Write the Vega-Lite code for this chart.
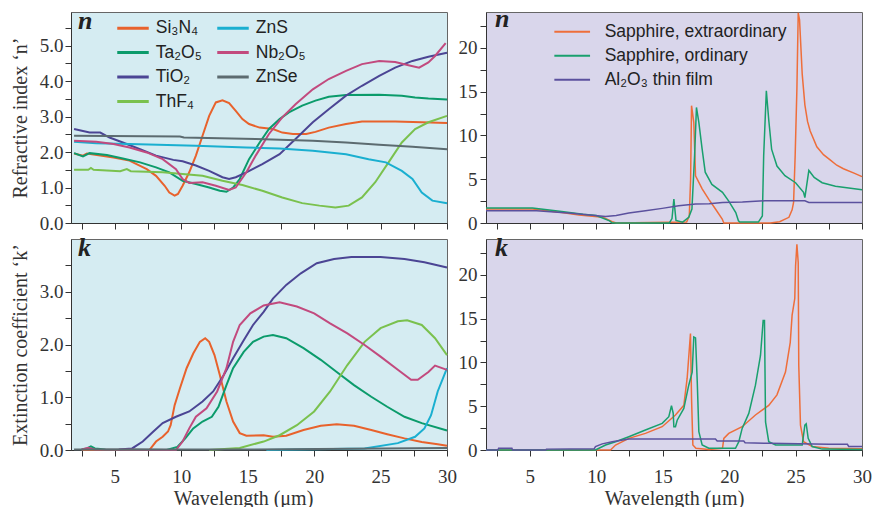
{
  "$schema": "https://vega.github.io/schema/vega-lite/v6.json",
  "padding": {"left": 9, "top": 5, "right": 5, "bottom": 0},
  "background": "#ffffff",
  "columns": 2,
  "spacing": {"row": 16, "column": 39},
  "bounds": "flush",
  "resolve": {"scale": {"color": "independent"}, "legend": {"color": "independent"}},
  "config": {
    "font": "Liberation Serif",
    "view": {"stroke": "#666666", "strokeWidth": 1},
    "axis": {"labelFont": "Liberation Serif", "titleFont": "Liberation Serif", "labelFontSize": 19, "titleFontSize": 20, "titleFontWeight": "normal", "labelColor": "#333333", "titleColor": "#333333", "domainColor": "#333333", "tickColor": "#333333", "tickSize": 6, "grid": false, "labelOverlap": false, "labelFlush": false},
    "axisX": {"labelFont": "Liberation Serif", "titleFont": "Liberation Serif", "labelPadding": 11, "titlePadding": 2},
    "axisY": {"labelFont": "Liberation Serif", "titleFont": "Liberation Serif", "labelPadding": 2, "titlePadding": 9},
    "legend": {"labelFont": "Liberation Sans", "labelFontSize": 17.5, "labelColor": "#222222", "symbolType": "M-1.5,0H1.5", "symbolSize": 441, "symbolStrokeWidth": 3, "labelOffset": 10.75, "padding": 0, "labelLimit": 300},
    "title": {"font": "Liberation Serif", "fontSize": 26, "fontStyle": "italic", "fontWeight": "bold", "anchor": "start", "frame": "group", "color": "#222222", "baseline": "alphabetic", "offset": -22}
  },
  "datasets": {
    "nLeft": [
      {"material":"Si₃N₄","wavelength":1.93,"value":1.96},{"material":"Si₃N₄","wavelength":2.6,"value":1.9},{"material":"Si₃N₄","wavelength":2.9,"value":1.96},{"material":"Si₃N₄","wavelength":4.9,"value":1.85},{"material":"Si₃N₄","wavelength":6.1,"value":1.76},{"material":"Si₃N₄","wavelength":7.4,"value":1.52},{"material":"Si₃N₄","wavelength":8.1,"value":1.33},{"material":"Si₃N₄","wavelength":8.75,"value":1.05},{"material":"Si₃N₄","wavelength":9.1,"value":0.86},{"material":"Si₃N₄","wavelength":9.5,"value":0.77},{"material":"Si₃N₄","wavelength":9.75,"value":0.82},{"material":"Si₃N₄","wavelength":10.1,"value":1.05},{"material":"Si₃N₄","wavelength":10.6,"value":1.43},{"material":"Si₃N₄","wavelength":11.1,"value":1.9},{"material":"Si₃N₄","wavelength":11.6,"value":2.46},{"material":"Si₃N₄","wavelength":12.1,"value":3.02},{"material":"Si₃N₄","wavelength":12.6,"value":3.4},{"material":"Si₃N₄","wavelength":13.1,"value":3.46},{"material":"Si₃N₄","wavelength":13.6,"value":3.38},{"material":"Si₃N₄","wavelength":14.1,"value":3.16},{"material":"Si₃N₄","wavelength":14.6,"value":2.93},{"material":"Si₃N₄","wavelength":15.1,"value":2.79},{"material":"Si₃N₄","wavelength":15.9,"value":2.69},{"material":"Si₃N₄","wavelength":16.9,"value":2.65},{"material":"Si₃N₄","wavelength":17.6,"value":2.55},{"material":"Si₃N₄","wavelength":18.4,"value":2.51},{"material":"Si₃N₄","wavelength":19.4,"value":2.51},{"material":"Si₃N₄","wavelength":20.1,"value":2.57},{"material":"Si₃N₄","wavelength":21.1,"value":2.69},{"material":"Si₃N₄","wavelength":22.4,"value":2.79},{"material":"Si₃N₄","wavelength":23.6,"value":2.86},{"material":"Si₃N₄","wavelength":26.1,"value":2.86},{"material":"Si₃N₄","wavelength":28.1,"value":2.84},{"material":"Si₃N₄","wavelength":30,"value":2.82},
      {"material":"Ta₂O₅","wavelength":1.93,"value":1.97},{"material":"Ta₂O₅","wavelength":2.6,"value":1.88},{"material":"Ta₂O₅","wavelength":3.1,"value":1.97},{"material":"Ta₂O₅","wavelength":4.4,"value":1.92},{"material":"Ta₂O₅","wavelength":5.6,"value":1.82},{"material":"Ta₂O₅","wavelength":6.9,"value":1.71},{"material":"Ta₂O₅","wavelength":8.1,"value":1.57},{"material":"Ta₂O₅","wavelength":9.1,"value":1.43},{"material":"Ta₂O₅","wavelength":10.1,"value":1.19},{"material":"Ta₂O₅","wavelength":11.1,"value":1.1},{"material":"Ta₂O₅","wavelength":12.1,"value":1.0},{"material":"Ta₂O₅","wavelength":12.9,"value":0.91},{"material":"Ta₂O₅","wavelength":13.4,"value":0.88},{"material":"Ta₂O₅","wavelength":13.9,"value":1.0},{"material":"Ta₂O₅","wavelength":14.4,"value":1.24},{"material":"Ta₂O₅","wavelength":15.1,"value":1.8},{"material":"Ta₂O₅","wavelength":15.9,"value":2.27},{"material":"Ta₂O₅","wavelength":16.6,"value":2.65},{"material":"Ta₂O₅","wavelength":17.4,"value":2.93},{"material":"Ta₂O₅","wavelength":18.1,"value":3.12},{"material":"Ta₂O₅","wavelength":19.1,"value":3.31},{"material":"Ta₂O₅","wavelength":20.1,"value":3.45},{"material":"Ta₂O₅","wavelength":21.1,"value":3.56},{"material":"Ta₂O₅","wavelength":22.4,"value":3.61},{"material":"Ta₂O₅","wavelength":24.9,"value":3.62},{"material":"Ta₂O₅","wavelength":26.6,"value":3.59},{"material":"Ta₂O₅","wavelength":27.6,"value":3.54},{"material":"Ta₂O₅","wavelength":28.6,"value":3.51},{"material":"Ta₂O₅","wavelength":30,"value":3.48},
      {"material":"TiO₂","wavelength":1.93,"value":2.65},{"material":"TiO₂","wavelength":3.1,"value":2.55},{"material":"TiO₂","wavelength":3.9,"value":2.55},{"material":"TiO₂","wavelength":4.6,"value":2.41},{"material":"TiO₂","wavelength":5.6,"value":2.27},{"material":"TiO₂","wavelength":6.9,"value":2.08},{"material":"TiO₂","wavelength":8.1,"value":1.9},{"material":"TiO₂","wavelength":9.4,"value":1.78},{"material":"TiO₂","wavelength":10.1,"value":1.74},{"material":"TiO₂","wavelength":11.1,"value":1.62},{"material":"TiO₂","wavelength":12.1,"value":1.47},{"material":"TiO₂","wavelength":13.1,"value":1.29},{"material":"TiO₂","wavelength":13.6,"value":1.24},{"material":"TiO₂","wavelength":14.1,"value":1.29},{"material":"TiO₂","wavelength":14.9,"value":1.43},{"material":"TiO₂","wavelength":16.1,"value":1.66},{"material":"TiO₂","wavelength":17.4,"value":1.94},{"material":"TiO₂","wavelength":18.6,"value":2.37},{"material":"TiO₂","wavelength":19.9,"value":2.84},{"material":"TiO₂","wavelength":21.1,"value":3.21},{"material":"TiO₂","wavelength":22.4,"value":3.59},{"material":"TiO₂","wavelength":23.6,"value":3.87},{"material":"TiO₂","wavelength":24.9,"value":4.15},{"material":"TiO₂","wavelength":26.1,"value":4.38},{"material":"TiO₂","wavelength":27.4,"value":4.57},{"material":"TiO₂","wavelength":28.6,"value":4.69},{"material":"TiO₂","wavelength":30,"value":4.8},
      {"material":"ThF₄","wavelength":1.93,"value":1.5},{"material":"ThF₄","wavelength":3.0,"value":1.5},{"material":"ThF₄","wavelength":3.2,"value":1.55},{"material":"ThF₄","wavelength":3.4,"value":1.5},{"material":"ThF₄","wavelength":5.4,"value":1.46},{"material":"ThF₄","wavelength":5.9,"value":1.52},{"material":"ThF₄","wavelength":6.2,"value":1.46},{"material":"ThF₄","wavelength":8.6,"value":1.43},{"material":"ThF₄","wavelength":10.1,"value":1.38},{"material":"ThF₄","wavelength":11.6,"value":1.33},{"material":"ThF₄","wavelength":13.1,"value":1.19},{"material":"ThF₄","wavelength":14.6,"value":1.07},{"material":"ThF₄","wavelength":16.1,"value":0.91},{"material":"ThF₄","wavelength":17.6,"value":0.72},{"material":"ThF₄","wavelength":19.1,"value":0.56},{"material":"ThF₄","wavelength":20.4,"value":0.49},{"material":"ThF₄","wavelength":21.6,"value":0.44},{"material":"ThF₄","wavelength":22.6,"value":0.49},{"material":"ThF₄","wavelength":23.6,"value":0.72},{"material":"ThF₄","wavelength":24.6,"value":1.15},{"material":"ThF₄","wavelength":25.6,"value":1.71},{"material":"ThF₄","wavelength":26.6,"value":2.27},{"material":"ThF₄","wavelength":27.6,"value":2.65},{"material":"ThF₄","wavelength":28.6,"value":2.84},{"material":"ThF₄","wavelength":30,"value":3.02},
      {"material":"ZnS","wavelength":1.93,"value":2.29},{"material":"ZnS","wavelength":3.6,"value":2.25},{"material":"ZnS","wavelength":6.1,"value":2.23},{"material":"ZnS","wavelength":11.1,"value":2.18},{"material":"ZnS","wavelength":14.9,"value":2.13},{"material":"ZnS","wavelength":17.4,"value":2.1},{"material":"ZnS","wavelength":19.9,"value":2.04},{"material":"ZnS","wavelength":22.4,"value":1.94},{"material":"ZnS","wavelength":24.1,"value":1.8},{"material":"ZnS","wavelength":25.4,"value":1.71},{"material":"ZnS","wavelength":26.6,"value":1.47},{"material":"ZnS","wavelength":27.4,"value":1.24},{"material":"ZnS","wavelength":28.1,"value":0.86},{"material":"ZnS","wavelength":28.9,"value":0.63},{"material":"ZnS","wavelength":30,"value":0.56},
      {"material":"Nb₂O₅","wavelength":1.93,"value":2.32},{"material":"Nb₂O₅","wavelength":3.6,"value":2.29},{"material":"Nb₂O₅","wavelength":4.9,"value":2.23},{"material":"Nb₂O₅","wavelength":6.1,"value":2.13},{"material":"Nb₂O₅","wavelength":7.4,"value":1.99},{"material":"Nb₂O₅","wavelength":8.6,"value":1.8},{"material":"Nb₂O₅","wavelength":9.6,"value":1.52},{"material":"Nb₂O₅","wavelength":10.1,"value":1.24},{"material":"Nb₂O₅","wavelength":10.6,"value":1.13},{"material":"Nb₂O₅","wavelength":11.6,"value":1.15},{"material":"Nb₂O₅","wavelength":12.6,"value":1.05},{"material":"Nb₂O₅","wavelength":13.6,"value":0.93},{"material":"Nb₂O₅","wavelength":14.1,"value":1.0},{"material":"Nb₂O₅","wavelength":14.9,"value":1.43},{"material":"Nb₂O₅","wavelength":15.6,"value":1.9},{"material":"Nb₂O₅","wavelength":16.6,"value":2.51},{"material":"Nb₂O₅","wavelength":17.6,"value":2.98},{"material":"Nb₂O₅","wavelength":18.6,"value":3.35},{"material":"Nb₂O₅","wavelength":19.9,"value":3.77},{"material":"Nb₂O₅","wavelength":21.1,"value":4.06},{"material":"Nb₂O₅","wavelength":22.4,"value":4.29},{"material":"Nb₂O₅","wavelength":23.6,"value":4.48},{"material":"Nb₂O₅","wavelength":24.9,"value":4.57},{"material":"Nb₂O₅","wavelength":26.1,"value":4.54},{"material":"Nb₂O₅","wavelength":27.1,"value":4.45},{"material":"Nb₂O₅","wavelength":27.9,"value":4.38},{"material":"Nb₂O₅","wavelength":28.6,"value":4.53},{"material":"Nb₂O₅","wavelength":29.1,"value":4.71},{"material":"Nb₂O₅","wavelength":29.9,"value":5.07},
      {"material":"ZnSe","wavelength":1.93,"value":2.46},{"material":"ZnSe","wavelength":9.9,"value":2.44},{"material":"ZnSe","wavelength":10.2,"value":2.41},{"material":"ZnSe","wavelength":15.6,"value":2.37},{"material":"ZnSe","wavelength":19.9,"value":2.32},{"material":"ZnSe","wavelength":22.4,"value":2.27},{"material":"ZnSe","wavelength":24.9,"value":2.21},{"material":"ZnSe","wavelength":27.4,"value":2.15},{"material":"ZnSe","wavelength":30,"value":2.08}
    ],
    "kLeft": [
      {"material":"Si₃N₄","wavelength":2.5,"value":0},{"material":"Si₃N₄","wavelength":7.6,"value":0},{"material":"Si₃N₄","wavelength":8.1,"value":0.16},{"material":"Si₃N₄","wavelength":8.6,"value":0.25},{"material":"Si₃N₄","wavelength":9.0,"value":0.35},{"material":"Si₃N₄","wavelength":9.2,"value":0.47},{"material":"Si₃N₄","wavelength":9.5,"value":0.85},{"material":"Si₃N₄","wavelength":9.9,"value":1.17},{"material":"Si₃N₄","wavelength":10.4,"value":1.55},{"material":"Si₃N₄","wavelength":10.9,"value":1.83},{"material":"Si₃N₄","wavelength":11.4,"value":2.05},{"material":"Si₃N₄","wavelength":11.8,"value":2.12},{"material":"Si₃N₄","wavelength":12.1,"value":2.05},{"material":"Si₃N₄","wavelength":12.5,"value":1.8},{"material":"Si₃N₄","wavelength":12.9,"value":1.42},{"material":"Si₃N₄","wavelength":13.4,"value":0.92},{"material":"Si₃N₄","wavelength":13.9,"value":0.54},{"material":"Si₃N₄","wavelength":14.4,"value":0.32},{"material":"Si₃N₄","wavelength":14.9,"value":0.27},{"material":"Si₃N₄","wavelength":16.2,"value":0.28},{"material":"Si₃N₄","wavelength":16.9,"value":0.25},{"material":"Si₃N₄","wavelength":17.9,"value":0.27},{"material":"Si₃N₄","wavelength":19.2,"value":0.38},{"material":"Si₃N₄","wavelength":20.5,"value":0.46},{"material":"Si₃N₄","wavelength":21.7,"value":0.49},{"material":"Si₃N₄","wavelength":23.0,"value":0.46},{"material":"Si₃N₄","wavelength":24.3,"value":0.38},{"material":"Si₃N₄","wavelength":25.5,"value":0.3},{"material":"Si₃N₄","wavelength":26.8,"value":0.22},{"material":"Si₃N₄","wavelength":28.1,"value":0.15},{"material":"Si₃N₄","wavelength":29.3,"value":0.11},{"material":"Si₃N₄","wavelength":30,"value":0.08},
      {"material":"Ta₂O₅","wavelength":2.5,"value":0.01},{"material":"Ta₂O₅","wavelength":2.9,"value":0.03},{"material":"Ta₂O₅","wavelength":3.2,"value":0.07},{"material":"Ta₂O₅","wavelength":3.5,"value":0.03},{"material":"Ta₂O₅","wavelength":4.3,"value":0.01},{"material":"Ta₂O₅","wavelength":8.9,"value":0},{"material":"Ta₂O₅","wavelength":9.7,"value":0.06},{"material":"Ta₂O₅","wavelength":10.3,"value":0.22},{"material":"Ta₂O₅","wavelength":10.9,"value":0.41},{"material":"Ta₂O₅","wavelength":11.6,"value":0.54},{"material":"Ta₂O₅","wavelength":12.3,"value":0.63},{"material":"Ta₂O₅","wavelength":12.8,"value":0.82},{"material":"Ta₂O₅","wavelength":13.4,"value":1.23},{"material":"Ta₂O₅","wavelength":13.9,"value":1.55},{"material":"Ta₂O₅","wavelength":14.7,"value":1.86},{"material":"Ta₂O₅","wavelength":15.4,"value":2.05},{"material":"Ta₂O₅","wavelength":16.2,"value":2.15},{"material":"Ta₂O₅","wavelength":16.9,"value":2.18},{"material":"Ta₂O₅","wavelength":17.9,"value":2.12},{"material":"Ta₂O₅","wavelength":19.2,"value":1.93},{"material":"Ta₂O₅","wavelength":20.5,"value":1.71},{"material":"Ta₂O₅","wavelength":21.7,"value":1.48},{"material":"Ta₂O₅","wavelength":23.0,"value":1.23},{"material":"Ta₂O₅","wavelength":24.3,"value":1.01},{"material":"Ta₂O₅","wavelength":25.5,"value":0.82},{"material":"Ta₂O₅","wavelength":26.8,"value":0.63},{"material":"Ta₂O₅","wavelength":28.1,"value":0.51},{"material":"Ta₂O₅","wavelength":30,"value":0.37},
      {"material":"TiO₂","wavelength":5.3,"value":0.01},{"material":"TiO₂","wavelength":6.3,"value":0.03},{"material":"TiO₂","wavelength":7.1,"value":0.16},{"material":"TiO₂","wavelength":7.9,"value":0.35},{"material":"TiO₂","wavelength":8.6,"value":0.51},{"material":"TiO₂","wavelength":9.6,"value":0.63},{"material":"TiO₂","wavelength":10.6,"value":0.73},{"material":"TiO₂","wavelength":11.6,"value":0.92},{"material":"TiO₂","wavelength":12.4,"value":1.11},{"material":"TiO₂","wavelength":13.2,"value":1.42},{"material":"TiO₂","wavelength":13.9,"value":1.74},{"material":"TiO₂","wavelength":14.7,"value":2.08},{"material":"TiO₂","wavelength":15.4,"value":2.37},{"material":"TiO₂","wavelength":16.2,"value":2.62},{"material":"TiO₂","wavelength":16.9,"value":2.87},{"material":"TiO₂","wavelength":17.9,"value":3.13},{"material":"TiO₂","wavelength":19.0,"value":3.35},{"material":"TiO₂","wavelength":20.2,"value":3.54},{"material":"TiO₂","wavelength":21.5,"value":3.62},{"material":"TiO₂","wavelength":22.8,"value":3.66},{"material":"TiO₂","wavelength":25.0,"value":3.66},{"material":"TiO₂","wavelength":26.8,"value":3.62},{"material":"TiO₂","wavelength":28.3,"value":3.56},{"material":"TiO₂","wavelength":30,"value":3.46},
      {"material":"ThF₄","wavelength":12.1,"value":0},{"material":"ThF₄","wavelength":14.4,"value":0.04},{"material":"ThF₄","wavelength":16.2,"value":0.16},{"material":"ThF₄","wavelength":17.4,"value":0.28},{"material":"ThF₄","wavelength":18.7,"value":0.47},{"material":"ThF₄","wavelength":20.0,"value":0.73},{"material":"ThF₄","wavelength":21.2,"value":1.11},{"material":"ThF₄","wavelength":22.5,"value":1.61},{"material":"ThF₄","wavelength":23.8,"value":2.05},{"material":"ThF₄","wavelength":25.0,"value":2.31},{"material":"ThF₄","wavelength":26.3,"value":2.44},{"material":"ThF₄","wavelength":27.0,"value":2.46},{"material":"ThF₄","wavelength":28.1,"value":2.37},{"material":"ThF₄","wavelength":29.1,"value":2.12},{"material":"ThF₄","wavelength":30,"value":1.8},
      {"material":"ZnS","wavelength":16.4,"value":0},{"material":"ZnS","wavelength":19.0,"value":0.01},{"material":"ZnS","wavelength":23.8,"value":0.03},{"material":"ZnS","wavelength":26.3,"value":0.13},{"material":"ZnS","wavelength":27.6,"value":0.25},{"material":"ZnS","wavelength":28.3,"value":0.41},{"material":"ZnS","wavelength":28.8,"value":0.66},{"material":"ZnS","wavelength":29.3,"value":1.11},{"material":"ZnS","wavelength":30,"value":1.55},
      {"material":"Nb₂O₅","wavelength":2.5,"value":0.01},{"material":"Nb₂O₅","wavelength":3.0,"value":0.04},{"material":"Nb₂O₅","wavelength":3.5,"value":0.01},{"material":"Nb₂O₅","wavelength":9.6,"value":0},{"material":"Nb₂O₅","wavelength":10.1,"value":0.16},{"material":"Nb₂O₅","wavelength":10.6,"value":0.41},{"material":"Nb₂O₅","wavelength":11.1,"value":0.63},{"material":"Nb₂O₅","wavelength":11.9,"value":0.79},{"material":"Nb₂O₅","wavelength":12.7,"value":1.11},{"material":"Nb₂O₅","wavelength":13.4,"value":1.55},{"material":"Nb₂O₅","wavelength":13.9,"value":2.05},{"material":"Nb₂O₅","wavelength":14.4,"value":2.37},{"material":"Nb₂O₅","wavelength":15.2,"value":2.59},{"material":"Nb₂O₅","wavelength":16.2,"value":2.74},{"material":"Nb₂O₅","wavelength":17.4,"value":2.8},{"material":"Nb₂O₅","wavelength":18.7,"value":2.72},{"material":"Nb₂O₅","wavelength":20.0,"value":2.59},{"material":"Nb₂O₅","wavelength":21.2,"value":2.4},{"material":"Nb₂O₅","wavelength":22.5,"value":2.21},{"material":"Nb₂O₅","wavelength":23.8,"value":1.99},{"material":"Nb₂O₅","wavelength":25.0,"value":1.77},{"material":"Nb₂O₅","wavelength":26.3,"value":1.52},{"material":"Nb₂O₅","wavelength":27.3,"value":1.33},{"material":"Nb₂O₅","wavelength":27.8,"value":1.33},{"material":"Nb₂O₅","wavelength":28.6,"value":1.48},{"material":"Nb₂O₅","wavelength":29.1,"value":1.6},{"material":"Nb₂O₅","wavelength":30,"value":1.52},
      {"material":"ZnSe","wavelength":1.93,"value":0.01},{"material":"ZnSe","wavelength":15,"value":0.01},{"material":"ZnSe","wavelength":30,"value":0.04}
    ],
    "nRight": [
      {"sample":"Sapphire, extraordinary","wavelength":1.7,"value":1.6},{"sample":"Sapphire, extraordinary","wavelength":5.2,"value":1.6},{"sample":"Sapphire, extraordinary","wavelength":7.4,"value":1.2},{"sample":"Sapphire, extraordinary","wavelength":8.7,"value":0.9},{"sample":"Sapphire, extraordinary","wavelength":10.5,"value":0.65},{"sample":"Sapphire, extraordinary","wavelength":11.2,"value":0.15},{"sample":"Sapphire, extraordinary","wavelength":11.5,"value":0},{"sample":"Sapphire, extraordinary","wavelength":16.8,"value":0.1},{"sample":"Sapphire, extraordinary","wavelength":17.0,"value":0.8},{"sample":"Sapphire, extraordinary","wavelength":17.1,"value":5},{"sample":"Sapphire, extraordinary","wavelength":17.17,"value":13.4},{"sample":"Sapphire, extraordinary","wavelength":17.34,"value":11.5},{"sample":"Sapphire, extraordinary","wavelength":17.47,"value":5.4},{"sample":"Sapphire, extraordinary","wavelength":17.97,"value":3.9},{"sample":"Sapphire, extraordinary","wavelength":18.47,"value":2.7},{"sample":"Sapphire, extraordinary","wavelength":18.97,"value":1.6},{"sample":"Sapphire, extraordinary","wavelength":19.48,"value":0.45},{"sample":"Sapphire, extraordinary","wavelength":19.6,"value":0},{"sample":"Sapphire, extraordinary","wavelength":23.1,"value":0},{"sample":"Sapphire, extraordinary","wavelength":23.8,"value":0.15},{"sample":"Sapphire, extraordinary","wavelength":24.5,"value":0.65},{"sample":"Sapphire, extraordinary","wavelength":24.74,"value":1.5},{"sample":"Sapphire, extraordinary","wavelength":24.85,"value":2.35},{"sample":"Sapphire, extraordinary","wavelength":24.97,"value":7.7},{"sample":"Sapphire, extraordinary","wavelength":25.1,"value":15.3},{"sample":"Sapphire, extraordinary","wavelength":25.2,"value":24.0},{"sample":"Sapphire, extraordinary","wavelength":25.3,"value":23.2},{"sample":"Sapphire, extraordinary","wavelength":25.5,"value":17},{"sample":"Sapphire, extraordinary","wavelength":25.7,"value":13.5},{"sample":"Sapphire, extraordinary","wavelength":25.9,"value":11.6},{"sample":"Sapphire, extraordinary","wavelength":26.1,"value":10.5},{"sample":"Sapphire, extraordinary","wavelength":26.6,"value":8.7},{"sample":"Sapphire, extraordinary","wavelength":27.1,"value":7.8},{"sample":"Sapphire, extraordinary","wavelength":27.6,"value":7.2},{"sample":"Sapphire, extraordinary","wavelength":28.1,"value":6.6},{"sample":"Sapphire, extraordinary","wavelength":28.6,"value":6.2},{"sample":"Sapphire, extraordinary","wavelength":29.4,"value":5.7},{"sample":"Sapphire, extraordinary","wavelength":30,"value":5.3},
      {"sample":"Sapphire, ordinary","wavelength":1.7,"value":1.7},{"sample":"Sapphire, ordinary","wavelength":5.2,"value":1.7},{"sample":"Sapphire, ordinary","wavelength":7.4,"value":1.3},{"sample":"Sapphire, ordinary","wavelength":9.0,"value":1.0},{"sample":"Sapphire, ordinary","wavelength":10.0,"value":0.85},{"sample":"Sapphire, ordinary","wavelength":11.0,"value":0.25},{"sample":"Sapphire, ordinary","wavelength":11.2,"value":0},{"sample":"Sapphire, ordinary","wavelength":15.5,"value":0},{"sample":"Sapphire, ordinary","wavelength":15.7,"value":0.5},{"sample":"Sapphire, ordinary","wavelength":15.84,"value":2.73},{"sample":"Sapphire, ordinary","wavelength":16.0,"value":0.3},{"sample":"Sapphire, ordinary","wavelength":16.5,"value":0.1},{"sample":"Sapphire, ordinary","wavelength":16.96,"value":0.65},{"sample":"Sapphire, ordinary","wavelength":17.2,"value":1.6},{"sample":"Sapphire, ordinary","wavelength":17.4,"value":7.7},{"sample":"Sapphire, ordinary","wavelength":17.54,"value":13.2},{"sample":"Sapphire, ordinary","wavelength":17.72,"value":11.5},{"sample":"Sapphire, ordinary","wavelength":17.97,"value":8.4},{"sample":"Sapphire, ordinary","wavelength":18.2,"value":5.8},{"sample":"Sapphire, ordinary","wavelength":18.7,"value":4.4},{"sample":"Sapphire, ordinary","wavelength":19.5,"value":3.5},{"sample":"Sapphire, ordinary","wavelength":19.97,"value":2.5},{"sample":"Sapphire, ordinary","wavelength":20.5,"value":1.2},{"sample":"Sapphire, ordinary","wavelength":20.7,"value":0.25},{"sample":"Sapphire, ordinary","wavelength":20.8,"value":0.1},{"sample":"Sapphire, ordinary","wavelength":22.2,"value":0.1},{"sample":"Sapphire, ordinary","wavelength":22.5,"value":0.8},{"sample":"Sapphire, ordinary","wavelength":22.6,"value":7.7},{"sample":"Sapphire, ordinary","wavelength":22.8,"value":15.1},{"sample":"Sapphire, ordinary","wavelength":22.98,"value":11.8},{"sample":"Sapphire, ordinary","wavelength":23.2,"value":8.4},{"sample":"Sapphire, ordinary","wavelength":23.6,"value":6.5},{"sample":"Sapphire, ordinary","wavelength":24.2,"value":5.4},{"sample":"Sapphire, ordinary","wavelength":25.0,"value":4.6},{"sample":"Sapphire, ordinary","wavelength":25.6,"value":3.5},{"sample":"Sapphire, ordinary","wavelength":25.7,"value":2.9},{"sample":"Sapphire, ordinary","wavelength":26.0,"value":6.0},{"sample":"Sapphire, ordinary","wavelength":26.4,"value":5.2},{"sample":"Sapphire, ordinary","wavelength":27.0,"value":4.6},{"sample":"Sapphire, ordinary","wavelength":28.0,"value":4.2},{"sample":"Sapphire, ordinary","wavelength":29.0,"value":4.0},{"sample":"Sapphire, ordinary","wavelength":30,"value":3.8},
      {"sample":"Al₂O₃ thin film","wavelength":1.7,"value":1.4},{"sample":"Al₂O₃ thin film","wavelength":5.5,"value":1.4},{"sample":"Al₂O₃ thin film","wavelength":7.9,"value":1.15},{"sample":"Al₂O₃ thin film","wavelength":9.5,"value":0.9},{"sample":"Al₂O₃ thin film","wavelength":10.7,"value":0.75},{"sample":"Al₂O₃ thin film","wavelength":11.5,"value":0.85},{"sample":"Al₂O₃ thin film","wavelength":12.45,"value":1.14},{"sample":"Al₂O₃ thin film","wavelength":13.7,"value":1.4},{"sample":"Al₂O₃ thin film","wavelength":14.96,"value":1.67},{"sample":"Al₂O₃ thin film","wavelength":16.2,"value":1.97},{"sample":"Al₂O₃ thin film","wavelength":17.47,"value":2.16},{"sample":"Al₂O₃ thin film","wavelength":18.5,"value":2.2},{"sample":"Al₂O₃ thin film","wavelength":19.5,"value":2.35},{"sample":"Al₂O₃ thin film","wavelength":21.0,"value":2.4},{"sample":"Al₂O₃ thin film","wavelength":22.7,"value":2.54},{"sample":"Al₂O₃ thin film","wavelength":25.7,"value":2.54},{"sample":"Al₂O₃ thin film","wavelength":26.0,"value":2.35},{"sample":"Al₂O₃ thin film","wavelength":30,"value":2.35}
    ],
    "kRight": [
      {"sample":"Sapphire, extraordinary","wavelength":1.7,"value":0},{"sample":"Sapphire, extraordinary","wavelength":11.07,"value":0},{"sample":"Sapphire, extraordinary","wavelength":11.45,"value":0.57},{"sample":"Sapphire, extraordinary","wavelength":12.45,"value":1.33},{"sample":"Sapphire, extraordinary","wavelength":13.7,"value":1.9},{"sample":"Sapphire, extraordinary","wavelength":14.96,"value":2.66},{"sample":"Sapphire, extraordinary","wavelength":15.96,"value":4.0},{"sample":"Sapphire, extraordinary","wavelength":16.59,"value":5.1},{"sample":"Sapphire, extraordinary","wavelength":16.84,"value":8.2},{"sample":"Sapphire, extraordinary","wavelength":17.09,"value":13.3},{"sample":"Sapphire, extraordinary","wavelength":17.17,"value":5.9},{"sample":"Sapphire, extraordinary","wavelength":17.27,"value":0.57},{"sample":"Sapphire, extraordinary","wavelength":17.5,"value":0.2},{"sample":"Sapphire, extraordinary","wavelength":18.47,"value":0.05},{"sample":"Sapphire, extraordinary","wavelength":19.5,"value":0.2},{"sample":"Sapphire, extraordinary","wavelength":19.6,"value":1.33},{"sample":"Sapphire, extraordinary","wavelength":19.97,"value":1.9},{"sample":"Sapphire, extraordinary","wavelength":20.98,"value":2.66},{"sample":"Sapphire, extraordinary","wavelength":21.98,"value":4.0},{"sample":"Sapphire, extraordinary","wavelength":22.98,"value":5.1},{"sample":"Sapphire, extraordinary","wavelength":23.6,"value":6.3},{"sample":"Sapphire, extraordinary","wavelength":24.24,"value":8.9},{"sample":"Sapphire, extraordinary","wavelength":24.6,"value":12.3},{"sample":"Sapphire, extraordinary","wavelength":24.74,"value":15.4},{"sample":"Sapphire, extraordinary","wavelength":24.94,"value":17.3},{"sample":"Sapphire, extraordinary","wavelength":25.0,"value":21},{"sample":"Sapphire, extraordinary","wavelength":25.1,"value":23.5},{"sample":"Sapphire, extraordinary","wavelength":25.2,"value":21.4},{"sample":"Sapphire, extraordinary","wavelength":25.24,"value":9.7},{"sample":"Sapphire, extraordinary","wavelength":25.37,"value":2.85},{"sample":"Sapphire, extraordinary","wavelength":25.6,"value":0.95},{"sample":"Sapphire, extraordinary","wavelength":26.25,"value":0.4},{"sample":"Sapphire, extraordinary","wavelength":27.5,"value":0.2},{"sample":"Sapphire, extraordinary","wavelength":30,"value":0.15},
      {"sample":"Sapphire, ordinary","wavelength":1.7,"value":0},{"sample":"Sapphire, ordinary","wavelength":9.94,"value":0},{"sample":"Sapphire, ordinary","wavelength":10.7,"value":0.57},{"sample":"Sapphire, ordinary","wavelength":11.45,"value":0.95},{"sample":"Sapphire, ordinary","wavelength":12.45,"value":1.52},{"sample":"Sapphire, ordinary","wavelength":13.7,"value":2.28},{"sample":"Sapphire, ordinary","wavelength":14.96,"value":3.04},{"sample":"Sapphire, ordinary","wavelength":15.46,"value":3.8},{"sample":"Sapphire, ordinary","wavelength":15.66,"value":5.05},{"sample":"Sapphire, ordinary","wavelength":15.79,"value":4.2},{"sample":"Sapphire, ordinary","wavelength":15.84,"value":2.66},{"sample":"Sapphire, ordinary","wavelength":15.96,"value":2.66},{"sample":"Sapphire, ordinary","wavelength":16.09,"value":3.4},{"sample":"Sapphire, ordinary","wavelength":16.59,"value":4.75},{"sample":"Sapphire, ordinary","wavelength":16.96,"value":7.4},{"sample":"Sapphire, ordinary","wavelength":17.22,"value":8.9},{"sample":"Sapphire, ordinary","wavelength":17.34,"value":12.9},{"sample":"Sapphire, ordinary","wavelength":17.47,"value":12.8},{"sample":"Sapphire, ordinary","wavelength":17.6,"value":7.8},{"sample":"Sapphire, ordinary","wavelength":17.72,"value":2.1},{"sample":"Sapphire, ordinary","wavelength":17.97,"value":0.57},{"sample":"Sapphire, ordinary","wavelength":18.47,"value":0.2},{"sample":"Sapphire, ordinary","wavelength":20.48,"value":0.2},{"sample":"Sapphire, ordinary","wavelength":20.73,"value":0.95},{"sample":"Sapphire, ordinary","wavelength":20.98,"value":2.47},{"sample":"Sapphire, ordinary","wavelength":21.48,"value":4.18},{"sample":"Sapphire, ordinary","wavelength":21.98,"value":7.4},{"sample":"Sapphire, ordinary","wavelength":22.36,"value":10.8},{"sample":"Sapphire, ordinary","wavelength":22.56,"value":14.8},{"sample":"Sapphire, ordinary","wavelength":22.66,"value":14.8},{"sample":"Sapphire, ordinary","wavelength":22.74,"value":3.2},{"sample":"Sapphire, ordinary","wavelength":22.98,"value":0.95},{"sample":"Sapphire, ordinary","wavelength":23.5,"value":0.57},{"sample":"Sapphire, ordinary","wavelength":25.5,"value":0.57},{"sample":"Sapphire, ordinary","wavelength":25.7,"value":2.85},{"sample":"Sapphire, ordinary","wavelength":25.8,"value":3.0},{"sample":"Sapphire, ordinary","wavelength":25.95,"value":1.33},{"sample":"Sapphire, ordinary","wavelength":26.25,"value":0.4},{"sample":"Sapphire, ordinary","wavelength":27.0,"value":0.1},{"sample":"Sapphire, ordinary","wavelength":30,"value":0.05},
      {"sample":"Al₂O₃ thin film","wavelength":1.7,"value":0},{"sample":"Al₂O₃ thin film","wavelength":2.6,"value":0},{"sample":"Al₂O₃ thin film","wavelength":2.65,"value":0.2},{"sample":"Al₂O₃ thin film","wavelength":3.65,"value":0.2},{"sample":"Al₂O₃ thin film","wavelength":3.7,"value":0},{"sample":"Al₂O₃ thin film","wavelength":6.2,"value":0},{"sample":"Al₂O₃ thin film","wavelength":6.25,"value":0.1},{"sample":"Al₂O₃ thin film","wavelength":9.85,"value":0.15},{"sample":"Al₂O₃ thin film","wavelength":9.94,"value":0.38},{"sample":"Al₂O₃ thin film","wavelength":10.45,"value":0.7},{"sample":"Al₂O₃ thin film","wavelength":11.2,"value":0.95},{"sample":"Al₂O₃ thin film","wavelength":12.45,"value":1.25},{"sample":"Al₂O₃ thin film","wavelength":18.97,"value":1.25},{"sample":"Al₂O₃ thin film","wavelength":19.1,"value":1.03},{"sample":"Al₂O₃ thin film","wavelength":21.1,"value":1.03},{"sample":"Al₂O₃ thin film","wavelength":21.2,"value":0.84},{"sample":"Al₂O₃ thin film","wavelength":22.98,"value":0.76},{"sample":"Al₂O₃ thin film","wavelength":27.5,"value":0.65},{"sample":"Al₂O₃ thin film","wavelength":28.9,"value":0.65},{"sample":"Al₂O₃ thin film","wavelength":29.0,"value":0.4},{"sample":"Al₂O₃ thin film","wavelength":30,"value":0.4}
    ]
  },
  "concat": [
    {
      "width": 376, "height": 211,
      "view": {"fill": "#d5ecf2", "stroke": "#666666"},
      "title": {"text": "n", "dx": 7},
      "data": {"name": "nLeft"},
      "mark": {"type": "line", "strokeWidth": 2},
      "encoding": {
        "x": {"field": "wavelength", "type": "quantitative", "scale": {"domain": [1.7, 30], "nice": false, "zero": false}, "axis": {"values": [2.5,5,7.5,10,12.5,15,17.5,20,22.5,25,27.5,30], "labels": false, "title": null}},
        "y": {"field": "value", "type": "quantitative", "scale": {"domain": [0, 5.95], "nice": false}, "axis": {"values": [0,0.5,1,1.5,2,2.5,3,3.5,4,4.5,5,5.5], "labelExpr": "datum.value % 1 === 0 ? format(datum.value, '.1f') : ''", "title": "Refractive index ‘n’"}},
        "color": {"field": "material", "type": "nominal", "scale": {"domain": ["Si₃N₄","Ta₂O₅","TiO₂","ThF₄","ZnS","Nb₂O₅","ZnSe"], "range": ["#e8622c","#0b9b6b","#4b4594","#7ac14e","#1aafd0","#c24a7e","#5c6b70"]}, "legend": {"title": null, "orient": "none", "legendX": 50, "legendY": 4, "columns": 2, "columnPadding": 9, "rowPadding": 3.5}},
        "strokeWidth": {"condition": {"test": "datum.material === 'ZnSe'", "value": 3.5}, "value": 2}
      }
    },
    {
      "width": 376, "height": 211,
      "view": {"fill": "#d9d6eb", "stroke": "#666666"},
      "title": {"text": "n", "dx": 9},
      "data": {"name": "nRight"},
      "mark": {"type": "line", "strokeWidth": 1.5},
      "encoding": {
        "x": {"field": "wavelength", "type": "quantitative", "scale": {"domain": [1.7, 30], "nice": false, "zero": false}, "axis": {"values": [2.5,5,7.5,10,12.5,15,17.5,20,22.5,25,27.5,30], "labels": false, "title": null}},
        "y": {"field": "value", "type": "quantitative", "scale": {"domain": [0, 24.1], "nice": false}, "axis": {"values": [0,2.5,5,7.5,10,12.5,15,17.5,20,22.5], "labelExpr": "datum.value % 5 === 0 ? format(datum.value, 'd') : ''", "title": null, "labelPadding": 3}},
        "color": {"field": "sample", "type": "nominal", "scale": {"domain": ["Sapphire, extraordinary","Sapphire, ordinary","Al₂O₃ thin film"], "range": ["#ee6e3a","#19a06e","#5b519e"]}, "legend": {"title": null, "orient": "none", "legendX": 74.7, "legendY": 8.2, "rowPadding": 4, "symbolType": "M-1.7,0H1.7", "symbolStrokeWidth": 2, "labelOffset": 21}}
      }
    },
    {
      "width": 376, "height": 211,
      "view": {"fill": "#d5ecf2", "stroke": "#666666"},
      "title": {"text": "k", "dx": 7},
      "data": {"name": "kLeft"},
      "mark": {"type": "line", "strokeWidth": 2},
      "encoding": {
        "x": {"field": "wavelength", "type": "quantitative", "scale": {"domain": [1.7, 30], "nice": false, "zero": false}, "axis": {"values": [2.5,5,7.5,10,12.5,15,17.5,20,22.5,25,27.5,30], "labelExpr": "datum.value % 5 === 0 ? format(datum.value, 'd') : ''", "title": "Wavelength (μm)", "titleX": 172}},
        "y": {"field": "value", "type": "quantitative", "scale": {"domain": [0, 4.0], "nice": false}, "axis": {"values": [0,0.5,1,1.5,2,2.5,3,3.5], "labelExpr": "datum.value % 1 === 0 ? format(datum.value, '.1f') : ''", "title": "Extinction coefficient ‘k’"}},
        "color": {"field": "material", "type": "nominal", "scale": {"domain": ["Si₃N₄","Ta₂O₅","TiO₂","ThF₄","ZnS","Nb₂O₅","ZnSe"], "range": ["#e8622c","#0b9b6b","#4b4594","#7ac14e","#1aafd0","#c24a7e","#5c6b70"]}, "legend": null},
        "strokeWidth": {"condition": {"test": "datum.material === 'ZnSe'", "value": 3.5}, "value": 2}
      }
    },
    {
      "width": 376, "height": 211,
      "view": {"fill": "#d9d6eb", "stroke": "#666666"},
      "title": {"text": "k", "dx": 9},
      "data": {"name": "kRight"},
      "mark": {"type": "line", "strokeWidth": 1.5},
      "encoding": {
        "x": {"field": "wavelength", "type": "quantitative", "scale": {"domain": [1.7, 30], "nice": false, "zero": false}, "axis": {"values": [2.5,5,7.5,10,12.5,15,17.5,20,22.5,25,27.5,30], "labelExpr": "datum.value % 5 === 0 ? format(datum.value, 'd') : ''", "title": "Wavelength (μm)"}},
        "y": {"field": "value", "type": "quantitative", "scale": {"domain": [0, 24.1], "nice": false}, "axis": {"values": [0,2.5,5,7.5,10,12.5,15,17.5,20,22.5], "labelExpr": "datum.value % 5 === 0 ? format(datum.value, 'd') : ''", "title": null, "labelPadding": 3}},
        "color": {"field": "sample", "type": "nominal", "scale": {"domain": ["Sapphire, extraordinary","Sapphire, ordinary","Al₂O₃ thin film"], "range": ["#ee6e3a","#19a06e","#5b519e"]}, "legend": null}
      }
    }
  ]
}
